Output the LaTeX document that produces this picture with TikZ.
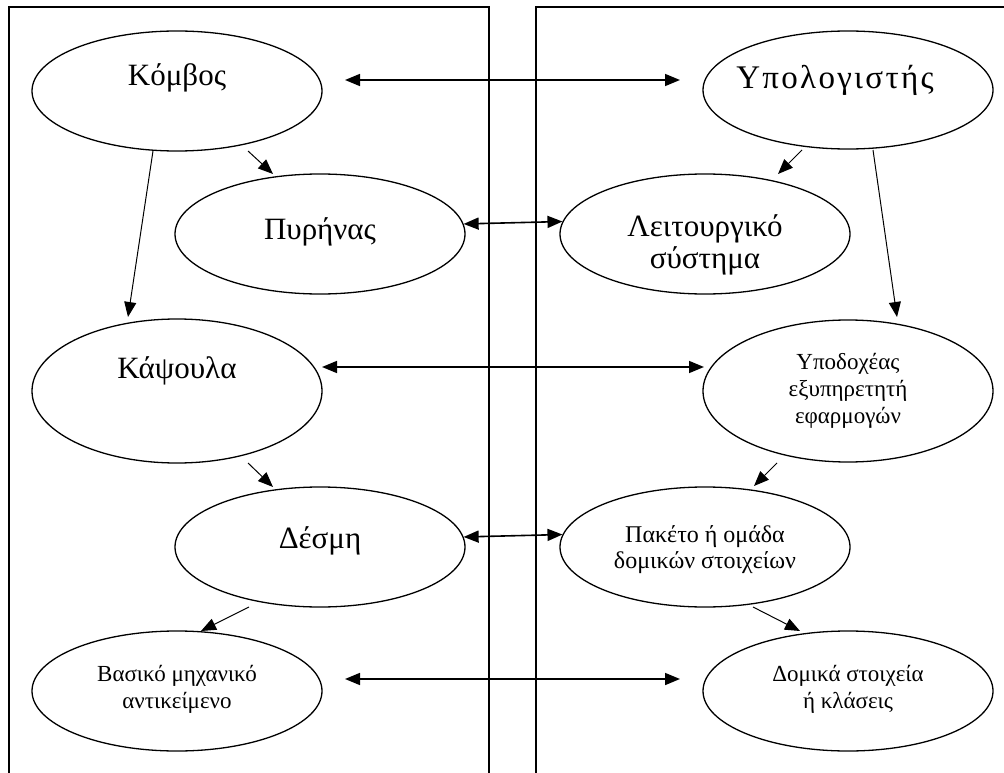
\documentclass[tikz,border=0pt]{standalone}
\usepackage{fontspec}
\setmainfont{Liberation Serif}
\usetikzlibrary{arrows.meta,shapes.geometric}

\begin{document}
\begin{tikzpicture}[x=1pt,y=-1pt,
  oval/.style={draw,ellipse,line width=1.3pt,minimum width=290pt,minimum height=120pt,inner sep=0pt},
  big/.style={inner sep=0pt,align=center,font=\fontsize{31}{32}\selectfont},
  small/.style={inner sep=0pt,align=center,font=\fontsize{23}{27}\selectfont},
  frame/.style={line width=1.8pt},
  link/.style={line width=1.6pt,{Triangle[length=15pt,width=12pt]}-{Triangle[length=15pt,width=12pt]}},
  down/.style={line width=1pt,-{Triangle[length=15pt,width=12pt]}}
]
\useasboundingbox (0,0) rectangle (1004,773);

% two open frames
\draw[frame] (9,773) -- (9,7) -- (489,7) -- (489,773);
\draw[frame] (536,773) -- (536,7) -- (1004,7);

% left column
\node[oval] (komvos) at (177,91) {};
\node[oval] (pyrinas) at (320,234) {};
\node[oval,minimum height=144pt] (kapsoula) at (177,391) {};
\node[oval] (desmi) at (320,547) {};
\node[oval] (vasiko) at (177,691) {};

% right column
\node[oval,minimum height=118pt] (ypol) at (848,90) {};
\node[oval] (leit) at (705,234) {};
\node[oval,minimum height=142pt] (ypod) at (848,391) {};
\node[oval] (paketo) at (705,547) {};
\node[oval] (domika) at (848,691) {};

% labels (multi-line labels sit on the baseline of their last line)
\node[big,anchor=base] (komvosT) at (177,86) {Κόμβος};
\node[big,anchor=base] (pyrinasT) at (320,239) {Πυρήνας};
\node[big,anchor=base] (kapsoulaT) at (177,378) {Κάψουλα};
\node[big,anchor=base] (desmiT) at (320,548) {Δέσμη};
\node[small,anchor=base] (vasikoT) at (177,708) {Βασικό μηχανικό\\αντικείμενο};
\node[big,anchor=base,font=\fontsize{33}{34}\selectfont\addfontfeatures{LetterSpace=7}] (ypolT) at (835,89) {Υπολογιστής};
\node[big,anchor=base] (leitT) at (705,268) {Λειτουργικό\\σύστημα};
\node[small,anchor=base] (ypodT) at (848,423) {Υποδοχέας\\εξυπηρετητή\\εφαρμογών};
\node[small,anchor=base,font=\fontsize{24}{26}\selectfont] (paketoT) at (705,568) {Πακέτο ή ομάδα\\δομικών στοιχείων};
\node[small,anchor=base] (domikaT) at (848,708) {Δομικά στοιχεία\\ή κλάσεις};

% free ends of the connectors
\coordinate (r1l) at (345,80);  \coordinate (r1r) at (680,80);
\coordinate (r3l) at (322,367); \coordinate (r3r) at (704,367);
\coordinate (r5l) at (345,679); \coordinate (r5r) at (680,679);
\coordinate (kA) at (248,151); \coordinate (kB) at (153,151);
\coordinate (yA) at (802,150); \coordinate (yB) at (873,150);
\coordinate (kpA) at (248,463); \coordinate (ypA) at (777,463);
\coordinate (dsA) at (249,607); \coordinate (pkA) at (753,607);

% correspondences across the frames
\draw[link] (r1l) -- (r1r);
\draw[link] (pyrinas.4.8) -- (leit.175.2);
\draw[link] (r3l) -- (r3r);
\draw[link] (desmi.4.8) -- (paketo.175.2);
\draw[link] (r5l) -- (r5r);

% containment inside each frame
\draw[down] (kA) -- (273,174) coordinate (pyrinasIn);
\draw[down] (kB) -- (128,317) coordinate (kapsoulaIn);
\draw[down] (yA) -- (778,174) coordinate (leitIn);
\draw[down] (yB) -- (897,317) coordinate (ypodIn);
\draw[down] (kpA) -- (273,487) coordinate (desmiIn);
\draw[down] (ypA) -- (754,486) coordinate (paketoIn);
\draw[down] (dsA) -- (201,631) coordinate (vasikoIn);
\draw[down] (pkA) -- (800,631) coordinate (domikaIn);
\end{tikzpicture}
\end{document}
